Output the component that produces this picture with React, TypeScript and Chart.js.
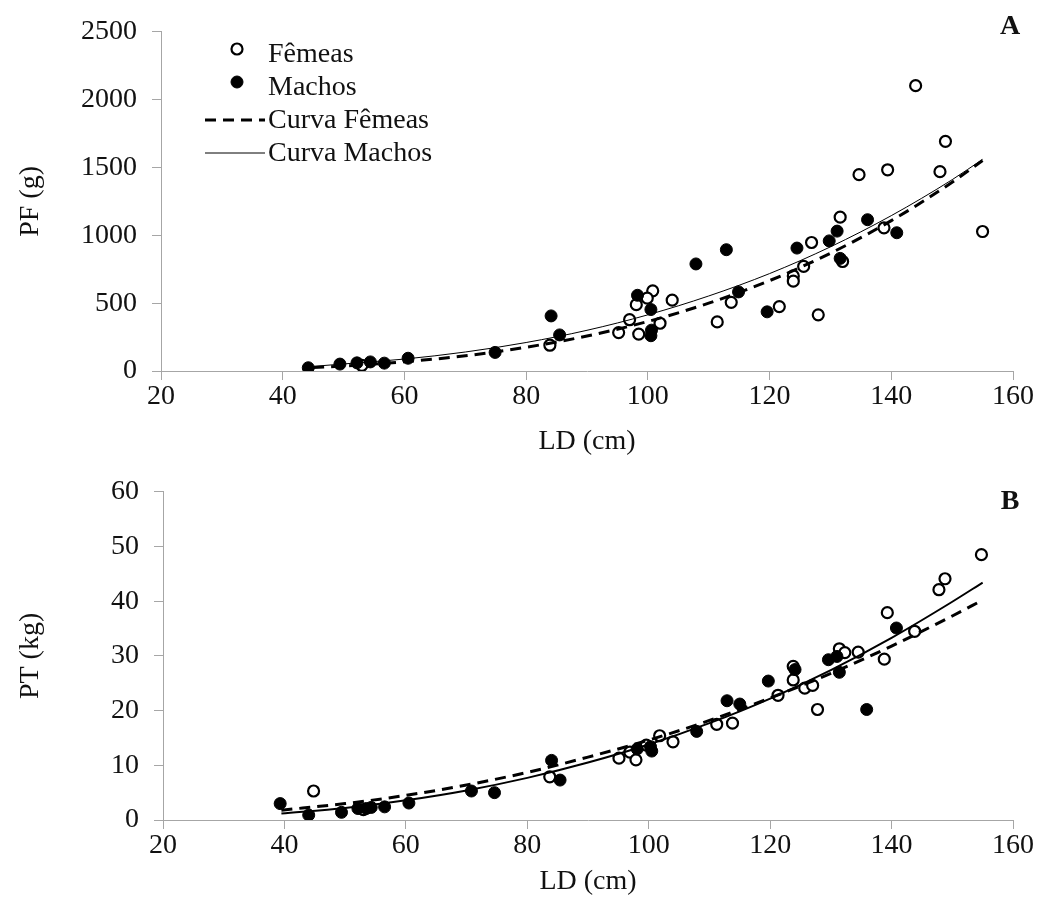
import React, { useEffect, useRef } from 'react';
import { Chart, registerables } from 'chart.js';

Chart.register(...registerables);

const FONT = '"Liberation Serif", "Times New Roman", serif';
const TEXT = '#111111';
const AXIS = '#a6a6a6';

// ---------- Panel A : PF (g) vs LD (cm) ----------
const femeasA_LD = [53.0, 83.9, 95.2, 97.0, 98.1, 98.5, 100.8, 99.9, 102.0, 104.0, 111.4, 113.7, 121.6, 123.9, 123.9, 125.6, 126.9, 128.0, 131.6, 132.0, 134.7, 138.8, 139.4, 144.0, 148.0, 148.9, 155.0];
const femeasA_PF = [41, 190, 283, 378, 489, 272, 591, 537, 352, 522, 362, 506, 475, 701, 662, 771, 947, 414, 1134, 807, 1447, 1055, 1483, 2103, 1469, 1693, 1028];

const machosA_LD = [44.2, 49.4, 52.2, 54.4, 56.7, 60.6, 74.9, 84.1, 85.5, 98.3, 100.5, 100.6, 100.5, 107.9, 112.9, 114.9, 119.6, 124.5, 129.8, 131.1, 131.6, 136.1, 140.9];
const machosA_PF = [24, 51, 60, 67, 58, 94, 137, 406, 266, 558, 453, 301, 260, 789, 894, 583, 436, 906, 959, 1031, 830, 1115, 1019];

const curveA_LD = [45, 50, 60, 70, 80, 90, 100, 110, 120, 130, 140, 150, 155];
const curvaFemeasA_PF = [26, 37, 68, 112, 175, 258, 365, 500, 666, 868, 1108, 1391, 1552];
const curvaMachosA_PF = [34, 52, 88, 140, 210, 300, 414, 553, 718, 915, 1145, 1410, 1560];

// ---------- Panel B : PT (kg) vs LD (cm) ----------
const femeasB_LD = [44.8, 53.0, 83.7, 95.1, 96.9, 97.9, 99.6, 101.8, 104.0, 111.2, 113.8, 121.3, 123.8, 123.8, 125.7, 127.0, 127.8, 131.4, 132.3, 134.5, 138.8, 139.3, 143.8, 147.8, 148.8, 154.8];
const femeasB_PT = [5.3, 1.9, 7.9, 11.3, 12.4, 11.0, 13.7, 15.4, 14.3, 17.5, 17.7, 22.8, 25.6, 28.1, 24.1, 24.6, 20.2, 31.3, 30.6, 30.7, 29.4, 37.9, 34.5, 42.1, 44.1, 48.5];

const machosB_LD = [39.3, 44.0, 49.4, 52.1, 53.5, 54.3, 56.5, 60.5, 70.8, 74.6, 84.0, 85.4, 98.1, 100.3, 100.5, 107.9, 112.9, 115.0, 119.7, 124.1, 129.6, 131.0, 131.4, 135.9, 140.8];
const machosB_PT = [3.0, 0.9, 1.4, 2.1, 2.1, 2.3, 2.4, 3.1, 5.3, 5.0, 10.9, 7.3, 13.0, 13.4, 12.6, 16.2, 21.8, 21.2, 25.4, 27.5, 29.3, 29.9, 27.0, 20.2, 35.1];

const curveB_LD = [39.5, 50, 60, 70, 80, 90, 100, 110, 120, 130, 140, 150, 155];
const curvaFemeasB_PT = [1.8, 3.0, 4.5, 6.4, 8.7, 11.5, 14.6, 18.2, 22.3, 26.8, 31.8, 37.3, 40.2];
const curvaMachosB_PT = [1.2, 2.2, 3.6, 5.4, 7.7, 10.5, 13.8, 17.7, 22.2, 27.4, 33.3, 39.9, 43.4];

const xTicks = { min: 20, max: 160, step: 20 };
const yTicksA = { min: 0, max: 2500, step: 500 };
const yTicksB = { min: 0, max: 60, step: 10 };

const seriesLabels = ['Fêmeas', 'Machos', 'Curva Fêmeas', 'Curva Machos'];

const pts = (xs: number[], ys: number[]) => xs.map((x, i) => ({ x, y: ys[i] }));

type PanelSpec = {
  letter: string;
  letterY: number;
  yTitle: string;
  yRange: { min: number; max: number; step: number };
  yWidth: number;
  xHeight: number;
  xTitlePad: number;
  legend: boolean;
  femeas: { x: number; y: number }[];
  machos: { x: number; y: number }[];
  curvaF: { x: number; y: number }[];
  curvaM: { x: number; y: number }[];
  curvaFWidth: number;
  curvaMWidth: number;
};

const overlayPlugin = {
  id: 'overlay',
  afterDraw(chart: any, _args: any, opts: any) {
    const ctx = chart.ctx;
    ctx.save();
    // panel letter
    ctx.font = `bold 28px ${FONT}`;
    ctx.fillStyle = TEXT;
    ctx.textAlign = 'center';
    ctx.textBaseline = 'middle';
    ctx.fillText(opts.letter, 1010, opts.letterY);

    if (opts.legend) {
      const ds = chart.data.datasets;
      const rows = [55, 88, 121, 154];
      ctx.font = `28px ${FONT}`;
      ctx.textAlign = 'left';
      ctx.textBaseline = 'middle';
      ds.forEach((d: any, i: number) => {
        const y = rows[i];
        if (i === 0 || i === 1) {
          ctx.beginPath();
          ctx.arc(237, y - 6, i === 0 ? 5.5 : 6, 0, Math.PI * 2);
          ctx.fillStyle = d.pointBackgroundColor;
          ctx.fill();
          ctx.lineWidth = d.pointBorderWidth;
          ctx.strokeStyle = d.pointBorderColor;
          ctx.stroke();
        } else {
          ctx.beginPath();
          ctx.setLineDash(d.borderDash || []);
          ctx.lineWidth = d.borderWidth;
          ctx.strokeStyle = d.borderColor;
          ctx.moveTo(205, y - 1);
          ctx.lineTo(265, y - 1);
          ctx.stroke();
          ctx.setLineDash([]);
        }
        ctx.fillStyle = TEXT;
        ctx.fillText(d.label, 268, y);
      });
    }
    ctx.restore();
  },
};

const plainNumber = (v: any) => String(v);

function makeConfig(p: PanelSpec): any {
  return {
    type: 'scatter',
    data: {
      datasets: [
        {
          label: seriesLabels[0],
          data: p.femeas,
          pointRadius: 5.5,
          pointBorderWidth: 2.2,
          pointBackgroundColor: '#ffffff',
          pointBorderColor: '#000000',
          showLine: false,
          order: 3,
        },
        {
          label: seriesLabels[1],
          data: p.machos,
          pointRadius: 6,
          pointBorderWidth: 1,
          pointBackgroundColor: '#000000',
          pointBorderColor: '#000000',
          showLine: false,
          order: 2,
        },
        {
          label: seriesLabels[2],
          data: p.curvaF,
          showLine: true,
          pointRadius: 0,
          borderColor: '#000000',
          borderWidth: p.curvaFWidth,
          borderDash: [11, 7],
          cubicInterpolationMode: 'monotone',
          order: 1,
        },
        {
          label: seriesLabels[3],
          data: p.curvaM,
          showLine: true,
          pointRadius: 0,
          borderColor: '#000000',
          borderWidth: p.curvaMWidth,
          cubicInterpolationMode: 'monotone',
          order: 0,
        },
      ],
    },
    options: {
      animation: false,
      responsive: false,
      devicePixelRatio: 1,
      events: [],
      layout: { padding: { top: 25, right: 26, bottom: 0, left: 0 } },
      plugins: {
        legend: { display: false },
        tooltip: { enabled: false },
        overlay: { letter: p.letter, letterY: p.letterY, legend: p.legend },
      },
      scales: {
        x: {
          type: 'linear',
          min: xTicks.min,
          max: xTicks.max,
          ticks: { stepSize: xTicks.step, color: TEXT, font: { family: FONT, size: 28 }, padding: 0, maxRotation: 0, callback: plainNumber },
          grid: { drawOnChartArea: false, drawTicks: true, tickLength: 9, color: AXIS, lineWidth: 1 },
          border: { display: true, color: AXIS, width: 1 },
          title: { display: true, text: 'LD (cm)', color: TEXT, font: { family: FONT, size: 28 }, padding: { top: 0, bottom: p.xTitlePad } },
          afterFit: (s: any) => { s.height = p.xHeight; },
        },
        y: {
          type: 'linear',
          min: p.yRange.min,
          max: p.yRange.max,
          ticks: { stepSize: p.yRange.step, color: TEXT, font: { family: FONT, size: 28 }, padding: 15, callback: plainNumber },
          grid: { drawOnChartArea: false, drawTicks: true, tickLength: 9, color: AXIS, lineWidth: 1 },
          border: { display: true, color: AXIS, width: 1 },
          title: { display: true, text: p.yTitle, color: TEXT, font: { family: FONT, size: 28 }, padding: { top: 14, bottom: 0 } },
          afterFit: (s: any) => { s.width = p.yWidth; },
        },
      },
    },
    plugins: [overlayPlugin],
  };
}

function Panel({ spec, top, height }: { spec: PanelSpec; top: number; height: number }) {
  const ref = useRef<HTMLCanvasElement | null>(null);
  useEffect(() => {
    if (!ref.current) return;
    const chart = new Chart(ref.current, makeConfig(spec));
    return () => chart.destroy();
  }, []);
  return (
    <canvas
      ref={ref}
      width={1039}
      height={height}
      style={{ position: 'absolute', left: 0, top, width: 1039, height }}
    />
  );
}

const panelA: PanelSpec = {
  letter: 'A',
  letterY: 27,
  yTitle: 'PF (g)',
  yRange: yTicksA,
  yWidth: 161,
  xHeight: 89,
  xTitlePad: 2,
  legend: true,
  femeas: pts(femeasA_LD, femeasA_PF),
  machos: pts(machosA_LD, machosA_PF),
  curvaF: pts(curveA_LD, curvaFemeasA_PF),
  curvaM: pts(curveA_LD, curvaMachosA_PF),
  curvaFWidth: 3,
  curvaMWidth: 1,
};

const panelB: PanelSpec = {
  letter: 'B',
  letterY: 42,
  yTitle: 'PT (kg)',
  yRange: yTicksB,
  yWidth: 163,
  xHeight: 82,
  xTitlePad: 4,
  legend: false,
  femeas: pts(femeasB_LD, femeasB_PT),
  machos: pts(machosB_LD, machosB_PT),
  curvaF: pts(curveB_LD, curvaFemeasB_PT),
  curvaM: pts(curveB_LD, curvaMachosB_PT),
  curvaFWidth: 3,
  curvaMWidth: 2,
};

export default function App() {
  return (
    <div style={{ position: 'absolute', left: 0, top: 0, width: 1039, height: 902, background: '#ffffff' }}>
      <Panel spec={panelA} top={0} height={460} />
      <Panel spec={panelB} top={460} height={442} />
    </div>
  );
}
